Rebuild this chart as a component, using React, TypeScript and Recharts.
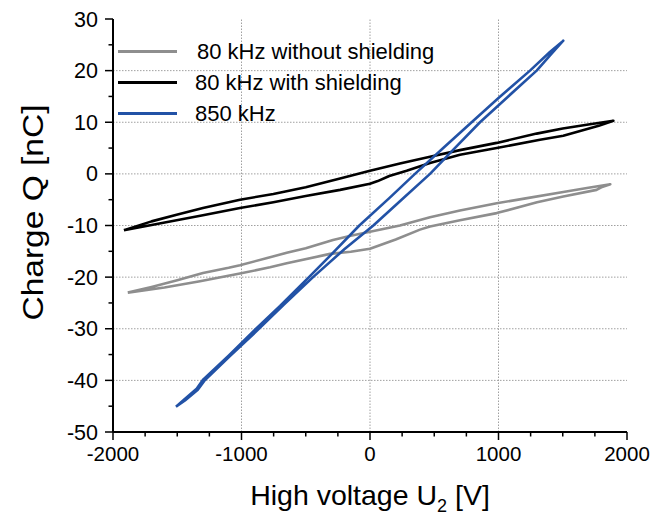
import React from 'react';
import { LineChart, Line, XAxis, YAxis, ReferenceLine, Legend, Label } from 'recharts';

const FONT = '"Liberation Sans", Arial, Helvetica, sans-serif';

// Series meta
const seriesNames = ['80 kHz without shielding', '80 kHz with shielding', '850 kHz'];
const seriesColors = ['#8e8e8e', '#000000', '#2252a6'];

// 80 kHz without shielding (closed loop: upper branch left->right, lower branch right->left)
const uNoShield = [-1885, -1700, -1500, -1300, -1100, -1012, -800, -648, -500, -288, -150, 0, 233, 467, 700, 986, 1200, 1504, 1700, 1870,
  1800, 1763, 1504, 1300, 986, 700, 467, 389, 200, 0, -150, -311, -648, -778, -1012, -1323, -1600, -1885];
const qNoShield = [-23.0, -21.9, -20.6, -19.2, -18.2, -17.7, -16.3, -15.3, -14.4, -12.8, -12.0, -11.2, -10.0, -8.4, -7.1, -5.7, -4.8, -3.5, -2.7, -2.0,
  -2.6, -3.1, -4.4, -5.5, -7.6, -9.0, -10.2, -10.8, -12.7, -14.5, -15.1, -15.5, -17.3, -18.1, -19.3, -20.8, -22.0, -23.0];

// 80 kHz with shielding
const uShield = [-1915, -1700, -1505, -1300, -1012, -752, -500, -233, 0, 233, 467, 700, 986, 1297, 1500, 1712, 1894,
  1780, 1504, 1323, 986, 700, 467, 285, 150, 60, 0, -233, -500, -752, -1012, -1300, -1505, -1700, -1915];
const qShield = [-10.9, -9.2, -7.9, -6.6, -5.0, -3.9, -2.6, -0.9, 0.6, 2.0, 3.3, 4.6, 6.0, 7.8, 8.8, 9.6, 10.3,
  9.3, 7.4, 6.6, 5.0, 3.7, 2.1, 0.6, -0.4, -1.4, -1.9, -3.1, -4.3, -5.5, -6.6, -8.0, -9.0, -9.9, -10.9];

// 850 kHz (right branch upward, left branch downward)
const u850 = [-1510, -1440, -1340, -1290, -1090, -885, -670, -443, -200, 26, 250, 467, 660, 856, 1080, 1297, 1420, 1504,
  1500, 1400, 1245, 1000, 791, 570, 350, 150, -83, -300, -475, -700, -895, -1100, -1297, -1349, -1450, -1510];
const q850 = [-45.1, -43.9, -41.8, -40.1, -35.3, -30.5, -25.3, -20.0, -14.6, -10.0, -4.9, 0.0, 5.0, 10.0, 15.1, 20.0, 23.5, 25.8,
  25.7, 23.6, 20.0, 14.7, 10.0, 5.0, 0.0, -4.7, -10.0, -15.6, -20.0, -25.6, -30.2, -35.2, -39.8, -41.6, -43.8, -45.1];

// Axes
const xMajorTicks = [-2000, -1000, 0, 1000, 2000];
const xAllTicks = [-2000, -1750, -1500, -1250, -1000, -750, -500, -250, 0, 250, 500, 750, 1000, 1250, 1500, 1750, 2000];
const yMajorTicks = [-50, -40, -30, -20, -10, 0, 10, 20, 30];
const yAllTicks = [-50, -45, -40, -35, -30, -25, -20, -15, -10, -5, 0, 5, 10, 15, 20, 25, 30];
const xGrid = [-1000, 0, 1000];
const yGrid = [-40, -30, -20, -10, 0, 10, 20];

const toData = (us: number[], qs: number[]) => us.map((u, i) => ({ u, q: qs[i] }));
const seriesData = [toData(uNoShield, qNoShield), toData(uShield, qShield), toData(u850, q850)];

const MAJ = 8;
const MIN = 4.5;

const BottomTick = (props: any) => {
  const { x, y, payload } = props;
  const major = xMajorTicks.includes(payload.value);
  return (
    <g>
      <line x1={x} x2={x} y1={y} y2={y + (major ? MAJ : MIN)} stroke="#000" strokeWidth={1.5} />
      {major && (
        <text x={x} y={y + 29} textAnchor="middle" fontSize={20.5} fontFamily={FONT} fill="#000">
          {payload.value}
        </text>
      )}
    </g>
  );
};

const TopTick = (props: any) => {
  const { x, y, payload } = props;
  const major = xMajorTicks.includes(payload.value);
  return <line x1={x} x2={x} y1={y} y2={y - (major ? MAJ : MIN)} stroke="#000" strokeWidth={1.5} />;
};

const LeftTick = (props: any) => {
  const { x, y, payload } = props;
  const major = yMajorTicks.includes(payload.value);
  return (
    <g>
      <line x1={x} x2={x - (major ? MAJ : MIN)} y1={y} y2={y} stroke="#000" strokeWidth={1.5} />
      {major && (
        <text x={x - 15} y={y + 7.5} textAnchor="end" fontSize={21.5} fontFamily={FONT} fill="#000">
          {payload.value}
        </text>
      )}
    </g>
  );
};

const RightTick = (props: any) => {
  const { x, y, payload } = props;
  const major = yMajorTicks.includes(payload.value);
  return <line x1={x} x2={x + (major ? MAJ : MIN)} y1={y} y2={y} stroke="#000" strokeWidth={1.5} />;
};

const LegendBox = () => (
  <div style={{ fontFamily: FONT, fontSize: 22, color: '#000', lineHeight: '31px' }}>
    {seriesNames.map((name, i) => (
      <div key={name} style={{ display: 'flex', alignItems: 'center', height: 31 }}>
        <span style={{ display: 'inline-block', width: 59, height: 0, borderTop: `3px solid ${seriesColors[i]}`, marginRight: i === 0 ? 20 : 18 }} />
        <span style={{ whiteSpace: 'nowrap' }}>{name}</span>
      </div>
    ))}
  </div>
);

const YTitle = (props: any) => {
  const vb = props.viewBox || {};
  const cx = vb.x + 33;
  const cy = vb.y + vb.height / 2 - 13;
  return (
    <text x={cx} y={cy} transform={`rotate(-90, ${cx}, ${cy})`} textAnchor="middle" dominantBaseline="central"
      fontSize={29} fontFamily={FONT} fill="#000" textLength={216} lengthAdjust="spacingAndGlyphs">
      Charge Q [nC]
    </text>
  );
};

const XTitle = (props: any) => {
  const vb = props.viewBox || {};
  const cx = vb.x + vb.width / 2;
  const cy = vb.y + 73;
  return (
    <text x={cx} y={cy} textAnchor="middle" fontSize={28.5} fontFamily={FONT} fill="#000">
      High voltage U<tspan fontSize={18} dy={7}>2</tspan><tspan dy={-7}> [V]</tspan>
    </text>
  );
};

export default function App() {
  return (
    <div style={{ position: 'absolute', left: 0, top: 0, width: 664, height: 518, background: '#fff' }}>
      <LineChart width={664} height={518} margin={{ top: 19, right: 37, bottom: 0, left: 0 }}>
        <XAxis xAxisId="b" orientation="bottom" type="number" dataKey="u" domain={[-2000, 2000]} ticks={xAllTicks} interval={0}
          allowDataOverflow height={86} tickSize={0} tickMargin={0} tickLine={false} tick={<BottomTick />}
          axisLine={{ stroke: '#000', strokeWidth: 2 }}>
          <Label content={<XTitle />} />
        </XAxis>
        <XAxis xAxisId="t" orientation="top" type="number" dataKey="u" domain={[-2000, 2000]} ticks={xAllTicks} interval={0}
          allowDataOverflow height={0} tickSize={0} tickMargin={0} tickLine={false} tick={<TopTick />}
          axisLine={{ stroke: '#000', strokeWidth: 2 }} />
        <YAxis yAxisId="l" orientation="left" type="number" dataKey="q" domain={[-50, 30]} ticks={yAllTicks} interval={0}
          allowDataOverflow width={113} tickSize={0} tickMargin={0} tickLine={false} tick={<LeftTick />}
          axisLine={{ stroke: '#000', strokeWidth: 2 }}>
          <Label content={<YTitle />} />
        </YAxis>
        <YAxis yAxisId="r" orientation="right" type="number" dataKey="q" domain={[-50, 30]} ticks={yAllTicks} interval={0}
          allowDataOverflow width={0} tickSize={0} tickMargin={0} tickLine={false} tick={<RightTick />}
          axisLine={{ stroke: '#000', strokeWidth: 2 }} />
        {xGrid.map((v) => (
          <ReferenceLine key={'gx' + v} x={v} xAxisId="b" yAxisId="l" stroke="#a0a0a0" strokeWidth={1} strokeDasharray="1.5 1.5" />
        ))}
        {yGrid.map((v) => (
          <ReferenceLine key={'gy' + v} y={v} xAxisId="b" yAxisId="l" stroke="#a0a0a0" strokeWidth={1} strokeDasharray="1.5 1.5" />
        ))}
        {seriesData.map((d, i) => (
          <Line key={seriesNames[i]} name={seriesNames[i]} data={d} xAxisId="b" yAxisId="l" dataKey="q" type="linear"
            stroke={seriesColors[i]} strokeWidth={2.6} dot={false} isAnimationActive={false} strokeLinejoin="round" />
        ))}
        <Legend layout="horizontal" verticalAlign="middle" align="center"
          wrapperStyle={{ position: 'absolute', left: 118, top: 36, width: 340, height: 93 }}
          content={() => <LegendBox />} />
      </LineChart>
    </div>
  );
}
